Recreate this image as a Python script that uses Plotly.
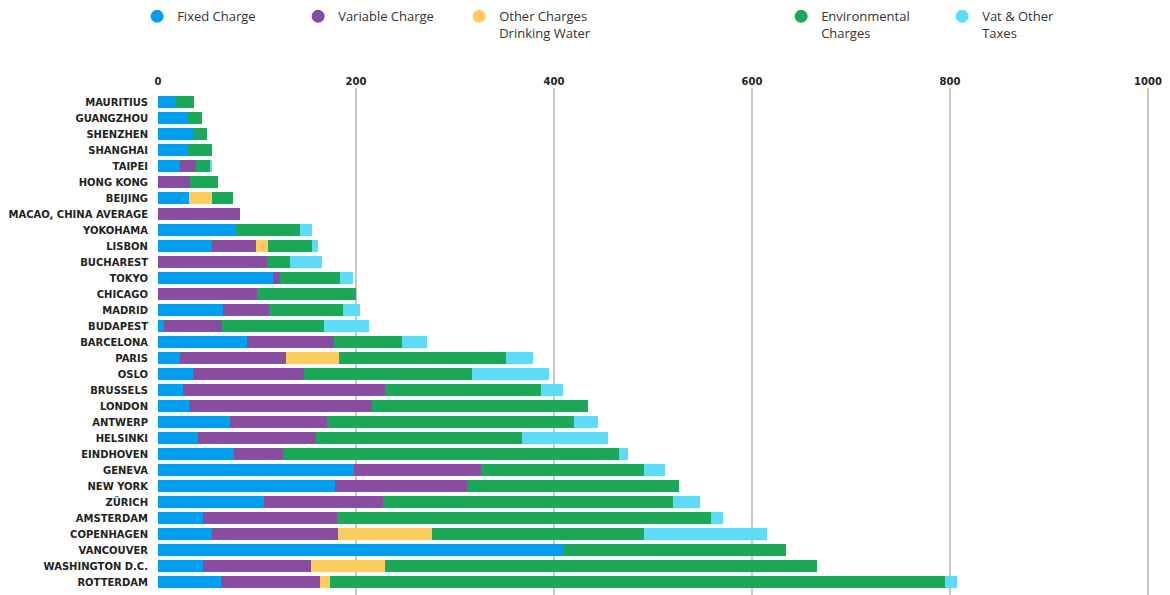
import plotly.graph_objects as go

cities = ["MAURITIUS", "GUANGZHOU", "SHENZHEN", "SHANGHAI", "TAIPEI", "HONG KONG", "BEIJING",
          "MACAO, CHINA AVERAGE", "YOKOHAMA", "LISBON", "BUCHAREST", "TOKYO", "CHICAGO", "MADRID",
          "BUDAPEST", "BARCELONA", "PARIS", "OSLO", "BRUSSELS", "LONDON", "ANTWERP", "HELSINKI",
          "EINDHOVEN", "GENEVA", "NEW YORK", "ZÜRICH", "AMSTERDAM", "COPENHAGEN", "VANCOUVER",
          "WASHINGTON D.C.", "ROTTERDAM"]

fixed_charge = [18, 30, 35, 29, 22.5, 0, 31, 0, 78.4, 55, 0, 116.4, 0, 66, 5.7, 90, 22.5, 35, 25.5,
                31, 73, 40.7, 76.3, 197.5, 178.3, 107, 45.4, 54.8, 408.9, 45.7, 64]
variable_charge = [0, 0, 0, 0, 15.5, 32.6, 0, 83, 0, 44, 110, 7, 100, 46.4, 59.3, 88, 107, 112,
                   203.7, 185, 98, 118.4, 49.8, 128.6, 134.3, 120.7, 135.3, 126.6, 0, 109.3, 99.3]
other_charges = [0, 0, 0, 0, 0, 0, 24, 0, 0, 12.4, 0, 0, 0, 0, 0, 0, 53.5, 0, 0, 0, 0, 0, 0, 0, 0,
                 0, 0, 95.3, 0, 74.5, 10]
environmental = [18.5, 14, 14, 26, 15, 28.3, 21, 0, 64.6, 44, 23.5, 60, 100, 74, 103, 68.9, 169,
                 170, 157.4, 218, 249, 208.4, 339.2, 165.2, 214, 292.2, 377.4, 214.6, 225.7, 436.6,
                 621.6]
vat_taxes = [0, 0, 0, 0, 1.4, 0, 0, 0, 12.1, 6.4, 32.3, 13.5, 0, 17.9, 45, 25.2, 27, 78.4, 22.8, 0,
             24.8, 87.5, 9.8, 21.2, 0, 27.6, 12.8, 123.5, 0, 0, 12.1]

series_names = ["Fixed Charge", "Variable Charge", "Other Charges<br>Drinking Water",
                "Environmental<br>Charges", "Vat & Other<br>Taxes"]
series_values = [fixed_charge, variable_charge, other_charges, environmental, vat_taxes]
colors = ["#00a0ef", "#874da0", "#fdcd5f", "#1ba85a", "#5ddcfa"]
x_ticks = [0, 200, 400, 600, 800, 1000]

fig = go.Figure()

for name, vals, col in zip(series_names, series_values, colors):
    fig.add_trace(go.Bar(
        y=cities, x=vals, orientation="h", name=name, marker_color=col,
        marker_line_width=0, showlegend=False, legendgroup=name,
        hovertemplate="%{y}: %{x}<extra>" + name + "</extra>"))

legend_order = series_names[:3] + [None] + series_names[3:]
for name in legend_order:
    if name is None:
        fig.add_trace(go.Scatter(x=[None], y=[None], mode="markers", name=" ",
                                 marker=dict(color="rgba(0,0,0,0)", size=13), showlegend=True,
                                 hoverinfo="skip"))
    else:
        col = colors[series_names.index(name)]
        fig.add_trace(go.Scatter(x=[None], y=[None], mode="markers", name=name,
                                 legendgroup=name,
                                 marker=dict(color=col, size=13, symbol="circle"),
                                 showlegend=True, hoverinfo="skip"))

fig.update_layout(
    width=1170, height=595,
    barmode="stack", bargap=0.22,
    plot_bgcolor="white", paper_bgcolor="white",
    margin=dict(l=158, r=19, t=88, b=0),
    legend=dict(orientation="h", x=-0.021, y=1.171, xanchor="left", yanchor="top",
                entrywidth=116, entrywidthmode="pixels", valign="top",
                font=dict(family="Open Sans", size=13, color="#333333"),
                bgcolor="rgba(0,0,0,0)"),
    xaxis=dict(side="top", range=[0, 1003], tickvals=x_ticks, ticktext=[str(v) for v in x_ticks],
               showgrid=True, gridcolor="#c8c8c8", gridwidth=1.5, zeroline=False,
               showline=False, ticks="",
               tickfont=dict(family="DejaVu Sans", size=10, color="#222222", weight="bold")),
    yaxis=dict(type="category", range=[30.81, -0.875], showgrid=False, zeroline=False,
               ticks="", ticklabelstandoff=9,
               tickfont=dict(family="DejaVu Sans", size=10, color="#222222", weight="bold")),
)

fig.write_html("out.html")
